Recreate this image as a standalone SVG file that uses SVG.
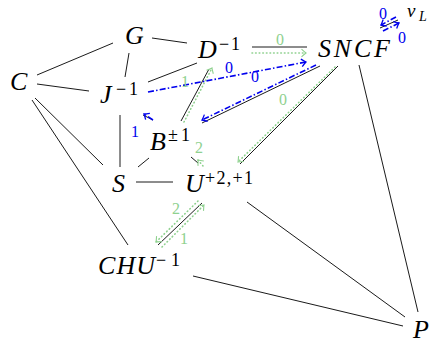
<svg xmlns="http://www.w3.org/2000/svg" width="430" height="343" viewBox="0 0 430 343">
<defs>
<style>
.n{font-family:"Liberation Serif","Times New Roman",serif;font-style:italic;font-size:26px;fill:#000}
.sup{font-family:"Liberation Serif","Times New Roman",serif;font-style:normal;font-size:18px;fill:#000}
.e{stroke:#000;stroke-width:0.9;fill:none}
.b{stroke:#0000ee;stroke-width:1.6;fill:none;stroke-dasharray:6 2.2 1.5 2.2}
.g{stroke:#8fd18f;stroke-width:1.6;fill:none;stroke-dasharray:0.6 3;stroke-linecap:round}
.lb{font-family:"Liberation Serif","Times New Roman",serif;font-size:16px;fill:#0000ee;text-anchor:middle}
.lg{font-family:"Liberation Serif","Times New Roman",serif;font-size:16px;fill:#8fd18f;text-anchor:middle}
</style>
<marker id="ab" viewBox="-6 -5 7 10" refX="0" refY="0" markerWidth="7" markerHeight="10" markerUnits="userSpaceOnUse" orient="auto">
<path d="M-4.5,-3.8 Q-1.5,-1 0,0 Q-1.5,1 -4.5,3.8" stroke="#0000ee" stroke-width="1.3" fill="none"/>
</marker>
<marker id="ag" viewBox="-6 -5 7 10" refX="0" refY="0" markerWidth="7" markerHeight="10" markerUnits="userSpaceOnUse" orient="auto">
<path d="M-4.5,-3.8 Q-1.5,-1 0,0 Q-1.5,1 -4.5,3.8" stroke="#8fd18f" stroke-width="1.1" fill="none"/>
</marker>
</defs>

<g id="connectors">
<line class="e" x1="37" y1="75" x2="113" y2="43"/>
<line class="e" x1="152" y1="38" x2="187" y2="43"/>
<line class="e" x1="129" y1="53" x2="125" y2="77"/>
<line class="e" x1="37" y1="84" x2="89" y2="91"/>
<line class="e" x1="148" y1="82" x2="197" y2="63"/>
<line class="e" x1="35" y1="98" x2="103" y2="165"/>
<line class="e" x1="32" y1="100" x2="128" y2="245"/>
<line class="e" x1="120" y1="115" x2="120" y2="167"/>
<line class="e" x1="143" y1="115" x2="153" y2="120"/>
<line class="e" x1="138" y1="167" x2="149" y2="158"/>
<line class="e" x1="136" y1="182" x2="173" y2="182"/>
<line class="e" x1="191" y1="157" x2="198" y2="163"/>
<line class="e" x1="181" y1="121" x2="209" y2="69"/>
<line class="e" x1="202" y1="123" x2="320" y2="66"/>
<line class="e" x1="252" y1="47" x2="307" y2="47"/>
<line class="e" x1="338" y1="66" x2="240" y2="164"/>
<line class="e" x1="359" y1="65" x2="418" y2="312"/>
<line class="e" x1="380" y1="28" x2="398" y2="20"/>
<line class="e" x1="247" y1="202" x2="405" y2="317"/>
<line class="e" x1="158" y1="245" x2="202" y2="203"/>
<line class="e" x1="193" y1="276" x2="403" y2="326"/>

<line class="g" x1="252" y1="53" x2="306" y2="53" marker-end="url(#ag)"/>
<line class="g" x1="335" y1="67" x2="238" y2="162" marker-end="url(#ag)"/>
<line class="g" x1="184" y1="122" x2="212" y2="68" marker-end="url(#ag)"/>
<line class="g" x1="203" y1="166" x2="198" y2="160" marker-end="url(#ag)"/>
<line class="g" x1="198" y1="201" x2="156" y2="242" marker-end="url(#ag)"/>
<line class="g" x1="162" y1="247" x2="204" y2="205" marker-end="url(#ag)"/>

<line class="b" x1="148" y1="92" x2="306" y2="62" marker-end="url(#ab)"/>
<line class="b" x1="316" y1="65" x2="202" y2="120" marker-end="url(#ab)"/>
<line class="b" x1="153" y1="120" x2="144" y2="114" marker-end="url(#ab)"/>
<line class="b" x1="396" y1="17" x2="381" y2="25" marker-end="url(#ab)"/>
<line class="b" x1="383" y1="31" x2="399" y2="23" marker-end="url(#ab)"/>

<text class="lg" x="280" y="45">0</text>
<text class="lb" x="229" y="73">0</text>
<text class="lb" x="255" y="82">0</text>
<text class="lg" x="283" y="105">0</text>
<text class="lg" x="185" y="87">1</text>
<text class="lb" x="135" y="137">1</text>
<text class="lg" x="199" y="153">2</text>
<text class="lg" x="176" y="214">2</text>
<text class="lg" x="184" y="244">1</text>
<text class="lb" x="383" y="19">0</text>
<text class="lb" x="402" y="43">0</text>
</g>

<g id="G"><text class="n" x="125" y="44" textLength="18">G</text></g>
<g id="C"><text class="n" x="10" y="90" textLength="17">C</text></g>
<g id="J"><text class="n" x="100" y="103" textLength="15">J</text><text class="sup" x="116" y="95" textLength="22">−1</text></g>
<g id="D"><text class="n" x="198" y="58" textLength="19">D</text><text class="sup" x="219" y="50" textLength="21">−1</text></g>
<g id="SNCF"><text class="n" x="318" y="57" textLength="72">SNCF</text></g>
<g id="vL"><text class="n" x="407" y="17" style="font-size:19px" textLength="11">v</text><text class="sup" x="419" y="21" style="font-style:italic;font-size:14px" textLength="10">L</text></g>
<g id="B"><text class="n" x="150" y="150" textLength="17">B</text><text class="sup" x="168" y="141" textLength="22">±1</text></g>
<g id="S"><text class="n" x="112" y="192" textLength="13">S</text></g>
<g id="U"><text class="n" x="185" y="192" textLength="17">U</text><text class="sup" x="205" y="184" textLength="48">+2,+1</text></g>
<g id="CHU"><text class="n" x="98" y="274" textLength="57">CHU</text><text class="sup" x="156" y="266" textLength="24">−1</text></g>
<g id="P"><text class="n" x="413" y="338" textLength="15">P</text></g>
</svg>
